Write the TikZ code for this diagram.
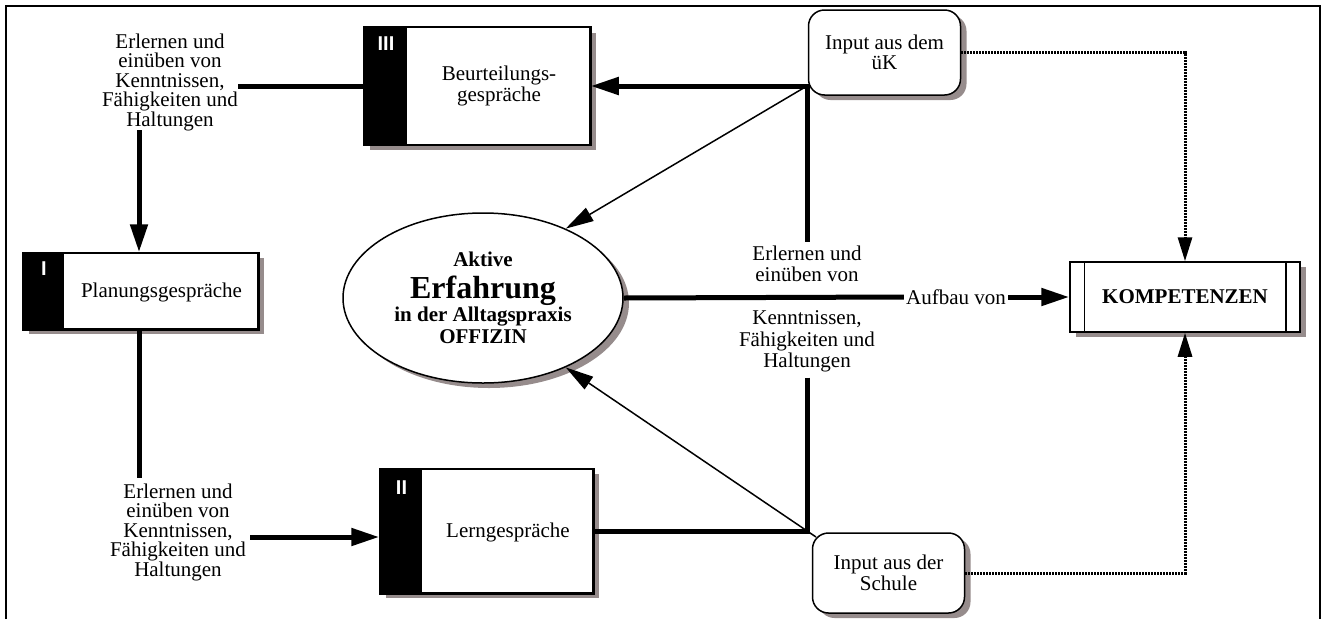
\documentclass[tikz,border=0pt]{standalone}
\usepackage{fontspec}
\setmainfont{Liberation Serif}
\newfontfamily\numfont{Liberation Sans}
\usetikzlibrary{arrows.meta,shadows,shapes.geometric}
\definecolor{shadowgray}{HTML}{968C8C}
\begin{document}
\begin{tikzpicture}[x=1pt,y=-1pt,
  txt/.style={font=\fontsize{21}{19.5}\selectfont,align=center,inner sep=0pt},
  shad/.style={drop shadow={shadow xshift=6pt,shadow yshift=-5pt,fill=shadowgray,opacity=1}},
  phasebox/.style={draw,line width=1.5pt,fill=white,shad,rectangle,inner sep=0pt},
  numeral/.style={font=\numfont\bfseries\fontsize{20}{20}\selectfont,text=white,inner sep=0pt},
  inbox/.style={draw,line width=1.5pt,fill=white,shad,rounded corners=16pt,inner sep=0pt,minimum width=152pt,minimum height=84pt,font=\fontsize{21}{20.5}\selectfont,align=center},
  thickline/.style={line width=5pt},
  thickarrow/.style={line width=5pt,-{Triangle[length=28pt,width=17pt]}},
  thinarrow/.style={line width=1.5pt,-{Triangle[length=28pt,width=15pt]}},
  dotarrow/.style={line width=3pt,dash pattern=on 2pt off 1pt,-{Triangle[length=24pt,width=14pt]}},
]
\useasboundingbox (0,0) rectangle (1322,619);
\draw[line width=2pt] (6,619) -- (6,6) -- (1320,6) -- (1320,619);

% Box III
\node[phasebox,minimum width=226pt,minimum height=117pt] (b3) at (477,86) {};
\fill (b3.north west) rectangle ([xshift=44pt]b3.south west);
\draw[line width=1.5pt] (b3.north west) rectangle (b3.south east);
\node[numeral] (n3) at (386,44) {III};
\node[txt,font=\fontsize{21}{21}\selectfont] (t3) at (499,86) {Beurteilungs-\\gespräche};

% Box I
\node[phasebox,minimum width=235pt,minimum height=76pt] (b1) at (140.5,291) {};
\fill (b1.north west) rectangle ([xshift=42pt]b1.south west);
\draw[line width=1.5pt] (b1.north west) rectangle (b1.south east);
\node[numeral] (n1) at (44,269) {I};
\node[txt] (t1) at (161.5,292) {Planungsgespräche};

% Box II
\node[phasebox,minimum width=213pt,minimum height=124pt] (b2) at (486.5,531) {};
\fill (b2.north west) rectangle ([xshift=43pt]b2.south west);
\draw[line width=1.5pt] (b2.north west) rectangle (b2.south east);
\node[numeral] (n2) at (401.5,488) {II};
\node[txt] (t2) at (508,532) {Lerngespräche};

% Ellipse
\node[ellipse,draw,line width=1.5pt,fill=white,shad,minimum width=280pt,minimum height=170pt,inner sep=0pt,align=center,font=\fontsize{21}{22}\selectfont\bfseries] (ell) at (483,298)
  {Aktive\\[8pt]{\fontsize{32}{32}\selectfont Erfahrung}\\[1pt]in der Alltagspraxis\\OFFIZIN};

% Input boxes
\node[inbox,minimum height=85pt] (ink) at (884.5,52.5) {Input aus dem\\üK};
\node[inbox,minimum height=80pt] (ins) at (888.5,573) {Input aus der\\Schule};

% Kompetenzen
\node[draw,line width=1.5pt,fill=white,shad,minimum width=230pt,minimum height=70pt,inner sep=0pt,font=\fontsize{21}{21}\selectfont\bfseries] (komp) at (1185,297) {KOMPETENZEN};
\draw[line width=1.5pt] ([xshift=15pt]komp.north west) -- ([xshift=15pt]komp.south west);
\draw[line width=1.5pt] ([xshift=-15pt]komp.north east) -- ([xshift=-15pt]komp.south east);

% Texts
\node[txt] (tl) at (170,82) {Erlernen und\\einüben von\\Kenntnissen,\\Fähigkeiten und\\Haltungen};
\node[txt] (bl) at (178,532) {Erlernen und\\einüben von\\Kenntnissen,\\Fähigkeiten und\\Haltungen};
\node[txt,font=\fontsize{21}{21.5}\selectfont] (mt) at (807,309) {Erlernen und\\einüben von\\[21.5pt]Kenntnissen,\\Fähigkeiten und\\Haltungen};
\node[txt,inner sep=2pt] (auf) at (956,297) {Aufbau von};

% Connectors
\draw[thickline] (tl.east |- b3.west) -- (b3.west);
\coordinate (a1) at (139,130);
\draw[thickarrow] (a1) -- (a1 |- b1.north);
\coordinate (a2) at (139,478);
\draw[thickline] (b1.south -| a1) -- (a2);
\coordinate (a3) at (250,537);
\draw[thickarrow] (a3) -- (a3 -| b2.west);

\draw[thickarrow] ([yshift=4pt]mt.north) |- (b3.east);
\draw[thickline] ([yshift=-5pt]mt.south) |- (b2.east);
\coordinate (j1) at (mt.north |- b3.east);
\coordinate (j2) at (mt.south |- b2.east);
\draw[thinarrow] (j1) -- (ell.40);
\draw[thinarrow] ([xshift=9pt,yshift=-6pt]j2) -- (ell.-40);

\draw[thickline] (ell.east) -- (auf.west);
\draw[thickarrow] (auf.east) -- (komp.west);

\draw[dotarrow] (ink.east) -| (komp.north);
\draw[dotarrow] (ins.east) -| (komp.south);
\end{tikzpicture}
\end{document}
